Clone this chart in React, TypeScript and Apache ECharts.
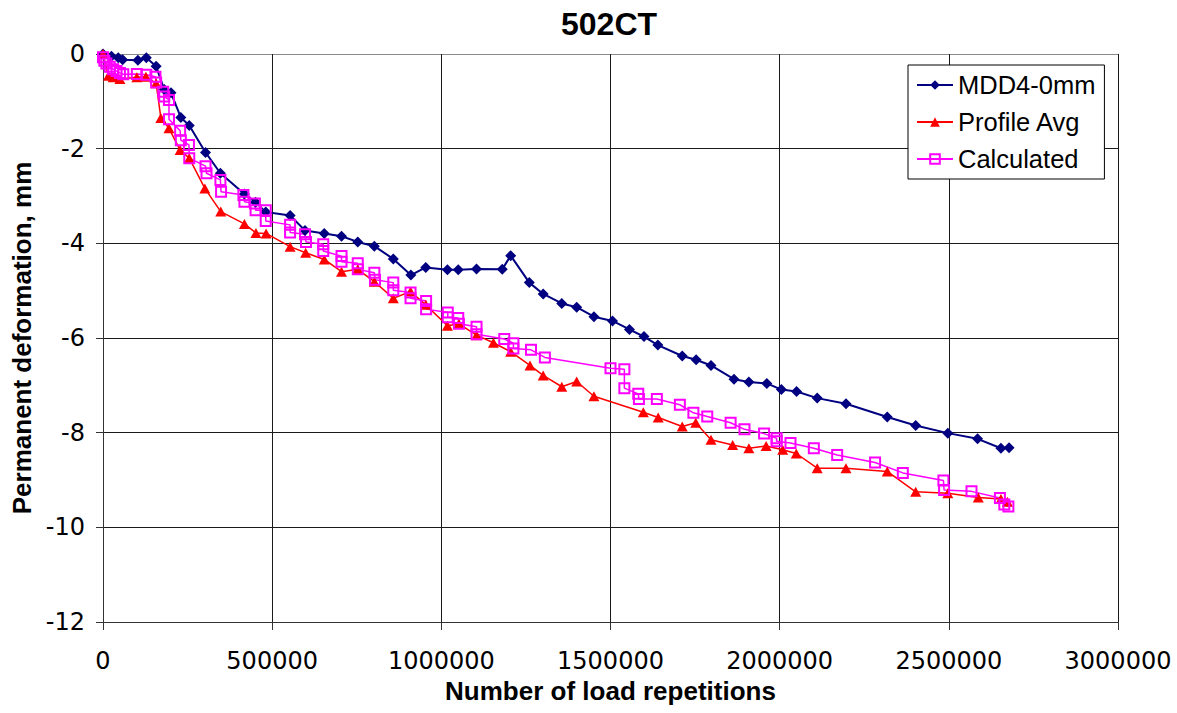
import React, { useEffect, useRef } from "react";
import * as echarts from "echarts";

const chartTitle = "502CT";
const xAxisTitle = "Number of load repetitions";
const yAxisTitle = "Permanent deformation, mm";
const seriesNames = ["MDD4-0mm", "Profile Avg", "Calculated"];

const xTickValues = [0, 500000, 1000000, 1500000, 2000000, 2500000, 3000000];
const yTickValues = [-12, -10, -8, -6, -4, -2, 0];

const mddX = [0, 25000, 45000, 58000, 103000, 128000, 157000, 181000, 201000, 230000, 255000, 303000, 347000, 418000, 451000, 481000, 553000, 597000, 654000, 705000, 753000, 802000, 858000, 910000, 954000, 1018000, 1050000, 1104000, 1180000, 1205000, 1260000, 1301000, 1356000, 1400000, 1451000, 1506000, 1556000, 1599000, 1640000, 1712000, 1753000, 1797000, 1865000, 1909000, 1962000, 2005000, 2050000, 2111000, 2196000, 2318000, 2402000, 2497000, 2585000, 2654000, 2678000];
const mddY = [0, -0.05, -0.08, -0.12, -0.13, -0.08, -0.26, -0.75, -0.82, -1.34, -1.51, -2.08, -2.52, -2.96, -3.13, -3.34, -3.41, -3.73, -3.79, -3.85, -3.97, -4.06, -4.33, -4.67, -4.51, -4.56, -4.56, -4.54, -4.55, -4.26, -4.83, -5.07, -5.27, -5.35, -5.55, -5.64, -5.82, -5.97, -6.15, -6.38, -6.46, -6.58, -6.87, -6.93, -6.96, -7.09, -7.13, -7.27, -7.39, -7.67, -7.85, -8.01, -8.13, -8.33, -8.32];

const profX = [0, 16000, 30000, 50000, 100000, 127000, 157000, 171000, 195000, 228000, 255000, 301000, 348000, 418000, 452000, 482000, 553000, 599000, 654000, 705000, 753000, 802000, 858000, 909000, 954000, 1018000, 1052000, 1104000, 1154000, 1205000, 1262000, 1301000, 1356000, 1400000, 1451000, 1597000, 1641000, 1712000, 1752000, 1797000, 1861000, 1909000, 1960000, 2009000, 2049000, 2111000, 2196000, 2318000, 2402000, 2497000, 2587000, 2654000, 2673000];
const profY = [0, -0.46, -0.49, -0.53, -0.49, -0.48, -0.62, -1.35, -1.57, -2.03, -2.2, -2.84, -3.33, -3.59, -3.78, -3.79, -4.07, -4.2, -4.34, -4.6, -4.55, -4.81, -5.16, -5.02, -5.3, -5.74, -5.7, -5.94, -6.1, -6.29, -6.58, -6.79, -7.03, -6.92, -7.23, -7.57, -7.68, -7.87, -7.79, -8.15, -8.26, -8.33, -8.28, -8.36, -8.44, -8.75, -8.75, -8.82, -9.25, -9.28, -9.37, -9.4, -9.46];

const calcX = [0, 4000, 10000, 20000, 30000, 40000, 50000, 60000, 100000, 128000, 155000, 157000, 178000, 181000, 195000, 195000, 228000, 230000, 254000, 255000, 303000, 306000, 347000, 349000, 415000, 418000, 449000, 451000, 481000, 481000, 553000, 553000, 597000, 600000, 651000, 651000, 705000, 705000, 753000, 753000, 802000, 804000, 858000, 858000, 909000, 909000, 955000, 955000, 1019000, 1019000, 1050000, 1052000, 1104000, 1104000, 1186000, 1213000, 1213000, 1265000, 1306000, 1500000, 1541000, 1541000, 1582000, 1584000, 1637000, 1705000, 1745000, 1786000, 1855000, 1896000, 1954000, 1991000, 1991000, 2032000, 2101000, 2170000, 2282000, 2364000, 2484000, 2486000, 2567000, 2651000, 2664000, 2676000];
const calcY = [-0.07, -0.14, -0.2, -0.27, -0.32, -0.36, -0.4, -0.43, -0.42, -0.44, -0.48, -0.6, -0.8, -0.9, -0.97, -1.38, -1.62, -1.82, -1.92, -2.2, -2.37, -2.52, -2.66, -2.91, -2.98, -3.12, -3.16, -3.3, -3.3, -3.53, -3.61, -3.77, -3.81, -3.97, -4.02, -4.16, -4.27, -4.39, -4.42, -4.55, -4.62, -4.77, -4.83, -4.99, -5.04, -5.16, -5.22, -5.39, -5.46, -5.56, -5.58, -5.7, -5.76, -5.92, -6.02, -6.11, -6.22, -6.25, -6.41, -6.64, -6.66, -7.06, -7.18, -7.29, -7.29, -7.41, -7.58, -7.66, -7.79, -7.93, -8.02, -8.12, -8.18, -8.22, -8.33, -8.47, -8.63, -8.85, -9.01, -9.21, -9.24, -9.38, -9.52, -9.56];

const FONT = "'Liberation Sans', Arial, sans-serif";
const TICK_FONT = "'DejaVu Sans', 'Liberation Sans', Arial, sans-serif";

function zip(xs: number[], ys: number[]) {
  return xs.map((x, i) => [x, ys[i]]);
}

export default function App() {
  const ref = useRef<HTMLDivElement>(null);
  useEffect(() => {
    document.body.style.margin = "0";
    if (!ref.current) return;
    const chart = echarts.init(ref.current, null, { renderer: "svg" });
    const ySplitColors = yTickValues.map((v, i) => (i === yTickValues.length - 1 ? "#8a8a8a" : "#1a1a1a"));
    chart.setOption({
      animation: false,
      backgroundColor: "#ffffff",
      title: {
        text: chartTitle,
        left: 556,
        top: 3,
        textStyle: { fontFamily: FONT, fontSize: 32, fontWeight: "bold", color: "#000" },
      },
      legend: {
        orient: "vertical",
        left: 908,
        top: 65,
        padding: [7, 9, 7, 8],
        itemWidth: 36,
        itemHeight: 12,
        itemGap: 11,
        borderColor: "#000",
        borderWidth: 1,
        backgroundColor: "#fff",
        textStyle: { fontFamily: FONT, fontSize: 25.5, color: "#000" },
        data: seriesNames,
      },
      grid: { left: 103, top: 54, width: 1015, height: 568, containLabel: false },
      xAxis: {
        type: "value",
        min: xTickValues[0],
        max: xTickValues[xTickValues.length - 1],
        interval: xTickValues[1] - xTickValues[0],
        name: xAxisTitle,
        nameLocation: "middle",
        nameGap: 56,
        nameTextStyle: { fontFamily: FONT, fontSize: 26, fontWeight: "bold", color: "#000" },
        axisLine: { show: true, onZero: false, lineStyle: { color: "#333", width: 1 } },
        axisTick: { show: true, length: 8, lineStyle: { color: "#333" } },
        axisLabel: { margin: 27, fontFamily: TICK_FONT, fontSize: 24, color: "#000", formatter: (v: number) => String(v) },
        splitLine: { show: true, lineStyle: { color: "#1a1a1a", width: 1 } },
      },
      yAxis: {
        type: "value",
        min: yTickValues[0],
        max: yTickValues[yTickValues.length - 1],
        interval: yTickValues[1] - yTickValues[0],
        name: yAxisTitle,
        nameLocation: "middle",
        nameGap: 68,
        nameTextStyle: { fontFamily: FONT, fontSize: 26, fontWeight: "bold", color: "#000" },
        axisLine: { show: true, onZero: false, lineStyle: { color: "#333", width: 1 } },
        axisTick: { show: true, length: 7, lineStyle: { color: "#333" } },
        axisLabel: { margin: 18, fontFamily: TICK_FONT, fontSize: 24, color: "#000", formatter: (v: number) => String(v) },
        splitLine: { show: true, lineStyle: { color: ySplitColors, width: 1 } },
      },
      series: [
        {
          name: seriesNames[0],
          type: "line",
          data: zip(mddX, mddY),
          symbol: "diamond",
          symbolSize: 11,
          itemStyle: { color: "#000080" },
          lineStyle: { color: "#000080", width: 2 },
        },
        {
          name: seriesNames[1],
          type: "line",
          data: zip(profX, profY),
          symbol: "triangle",
          symbolSize: [11, 10],
          itemStyle: { color: "#ff0000" },
          lineStyle: { color: "#ff0000", width: 1.5 },
        },
        {
          name: seriesNames[2],
          type: "line",
          data: zip(calcX, calcY),
          symbol: "rect",
          symbolSize: 10,
          itemStyle: { color: "rgba(255,255,255,0)", borderColor: "#ff00ff", borderWidth: 2 },
          lineStyle: { color: "#ff00ff", width: 1.5 },
        },
      ],
    });
    return () => chart.dispose();
  }, []);
  return <div ref={ref} style={{ width: 1177, height: 713 }} />;
}
